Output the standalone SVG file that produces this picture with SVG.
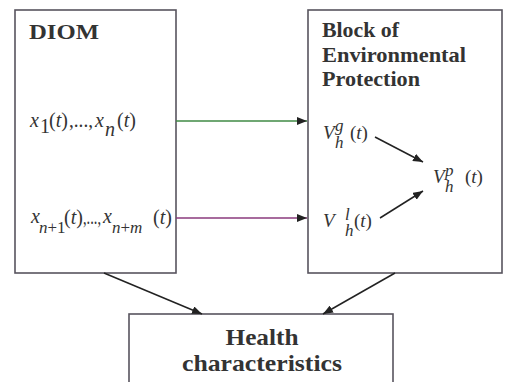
<svg xmlns="http://www.w3.org/2000/svg" width="510" height="382" viewBox="0 0 510 382">
<defs>
<marker id="ah" markerUnits="userSpaceOnUse" markerWidth="11" markerHeight="8" refX="10" refY="4" orient="auto">
<path d="M0,0 L10,4 L0,8 z" fill="#222"/>
</marker>
</defs>
<rect width="510" height="382" fill="#fff"/>
<g id="diom">
<rect x="15" y="10" width="161" height="263" fill="none" stroke="#58545e" stroke-width="1.6"/>
<text font-family="Liberation Serif" font-weight="bold" fill="#333" x="29" y="39" font-size="22" textLength="70" lengthAdjust="spacingAndGlyphs">DIOM</text>
<text font-family="Liberation Serif" fill="#333" font-size="20" y="127"><tspan x="30" font-style="italic">x</tspan><tspan x="40" y="133">1</tspan><tspan x="49" y="127">(</tspan><tspan font-style="italic">t</tspan><tspan>)</tspan></text>
<text font-family="Liberation Serif" fill="#333" font-size="20" x="69" y="127" textLength="24" lengthAdjust="spacingAndGlyphs">,...,</text>
<text font-family="Liberation Serif" fill="#333" font-size="20" y="127"><tspan x="95" font-style="italic">x</tspan><tspan x="105" y="136" font-style="italic">n</tspan><tspan x="117" y="127">(</tspan><tspan font-style="italic">t</tspan><tspan>)</tspan></text>
<text font-family="Liberation Serif" fill="#333" font-size="20" y="223"><tspan x="31" font-style="italic">x</tspan><tspan x="39" y="233" font-size="17" font-style="italic">n</tspan><tspan font-size="17">+1</tspan><tspan x="64" y="224">(</tspan><tspan font-style="italic">t</tspan><tspan>)</tspan></text>
<text font-family="Liberation Serif" fill="#333" font-size="20" x="83" y="224" textLength="18" lengthAdjust="spacingAndGlyphs">,...,</text>
<text font-family="Liberation Serif" fill="#333" font-size="20" y="223"><tspan x="103" font-style="italic">x</tspan><tspan x="112" y="233" font-size="17" font-style="italic">n</tspan><tspan font-size="17">+</tspan><tspan font-size="17" font-style="italic">m</tspan><tspan x="153" y="224">(</tspan><tspan font-style="italic">t</tspan><tspan>)</tspan></text>
</g>
<g id="bep">
<rect x="308" y="10" width="194" height="263" fill="none" stroke="#58545e" stroke-width="1.6"/>
<text font-family="Liberation Serif" font-weight="bold" fill="#333" x="322" y="37" font-size="21" textLength="77" lengthAdjust="spacingAndGlyphs">Block of</text>
<text font-family="Liberation Serif" font-weight="bold" fill="#333" x="322" y="62" font-size="21" textLength="144" lengthAdjust="spacingAndGlyphs">Environmental</text>
<text font-family="Liberation Serif" font-weight="bold" fill="#333" x="322" y="86" font-size="21" textLength="98" lengthAdjust="spacingAndGlyphs">Protection</text>
<text font-family="Liberation Serif" fill="#333" font-size="19"><tspan x="323" y="139" font-style="italic">V</tspan><tspan x="335" y="131" font-size="17" font-style="italic">g</tspan><tspan x="335" y="148" font-size="17" font-style="italic">h</tspan><tspan x="350" y="139">(</tspan><tspan font-style="italic">t</tspan><tspan>)</tspan></text>
<text font-family="Liberation Serif" fill="#333" font-size="19"><tspan x="433" y="183" font-style="italic">V</tspan><tspan x="445" y="176" font-size="17" font-style="italic">p</tspan><tspan x="445" y="192" font-size="17" font-style="italic">h</tspan><tspan x="465" y="183">(</tspan><tspan font-style="italic">t</tspan><tspan>)</tspan></text>
<text font-family="Liberation Serif" fill="#333" font-size="19"><tspan x="323" y="227" font-style="italic">V</tspan><tspan x="345" y="220" font-size="17" font-style="italic">l</tspan><tspan x="345" y="236" font-size="17" font-style="italic">h</tspan><tspan x="354" y="227">(</tspan><tspan font-style="italic">t</tspan><tspan>)</tspan></text>
</g>
<g id="health">
<rect x="129" y="314" width="264" height="80" fill="none" stroke="#58545e" stroke-width="1.6"/>
<text font-family="Liberation Serif" font-weight="bold" fill="#333" x="262" y="345" font-size="24" text-anchor="middle" textLength="73" lengthAdjust="spacingAndGlyphs">Health</text>
<text font-family="Liberation Serif" font-weight="bold" fill="#333" x="262" y="371" font-size="24" text-anchor="middle" textLength="160" lengthAdjust="spacingAndGlyphs">characteristics</text>
</g>
<g id="connectors" fill="none" stroke="#222" stroke-width="1.5">
<line x1="176" y1="121" x2="307" y2="121" stroke="#3f8a45" marker-end="url(#ah)"/>
<line x1="176" y1="218" x2="307" y2="218" stroke="#8a3a7c" marker-end="url(#ah)"/>
<line x1="375" y1="137" x2="423" y2="162" marker-end="url(#ah)"/>
<line x1="380" y1="218" x2="423" y2="191" marker-end="url(#ah)"/>
<line x1="104" y1="273" x2="202" y2="314" marker-end="url(#ah)"/>
<line x1="395" y1="273" x2="323" y2="314" marker-end="url(#ah)"/>
</g>
</svg>
